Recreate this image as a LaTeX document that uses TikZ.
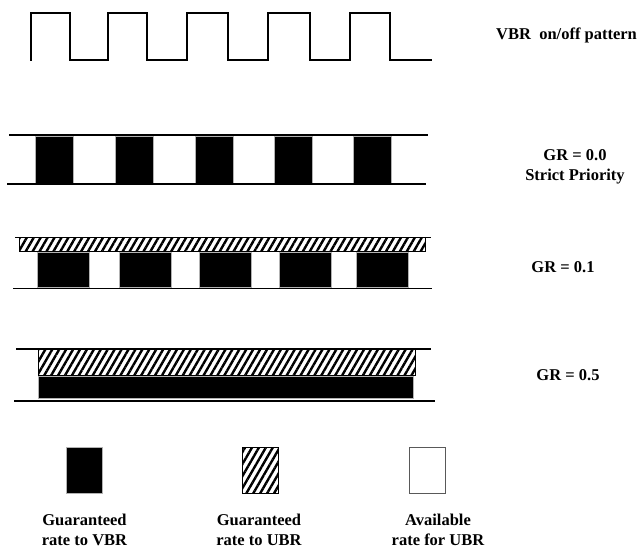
\documentclass[tikz,border=0pt]{standalone}
\usepackage{fontspec}
\setmainfont{Liberation Serif}
\usetikzlibrary{patterns.meta,positioning}
\tikzset{
  wav/.style={black, line width=2pt, line join=miter},
  rail/.style={black, line width=1.6pt},
  vcell/.style={fill=black, draw=gray!60, line width=0.8pt},
  ucell/.style={draw=black, line width=0.8pt,
      pattern={Lines[angle=60, distance=6pt, line width=2.4pt]}},
  fcell/.style={fill=white, draw=gray!70!black, line width=0.8pt},
  key/.style={minimum width=36pt, minimum height=46pt, inner sep=0pt},
  glab/.style={font=\fontsize{16.5}{20}\selectfont\bfseries, align=center, inner sep=0pt},
}

\begin{document}
\begin{tikzpicture}[x=1pt,y=-1pt]
\useasboundingbox (0,0) rectangle (639,548);
% VBR on/off pattern
\draw[wav] (31,61) |- (70,13) |- (108,60) |- (147,13) |- (187,60) |- (228,13)
  |- (268,60) |- (310,13) |- (350,60) |- (390,13) |- (432,60);
\node[glab, anchor=west] (vbrlab) at (496,35) {VBR\ \ on/off pattern};
% GR = 0.0
\foreach \x in {35,115,195,274,353}
  \draw[vcell] (\x,136) rectangle ++(38,47);
\draw[rail] (9,135) -- (428,135);
\draw[rail] (7,184) -- (426,184);
\node[glab] (gr0) at (575,167) {GR = 0.0\\Strict Priority};
% GR = 0.1
\draw[ucell] (19,237.5) rectangle (425,251.5);
\foreach \x in {37,119,199,279,356}
  \draw[vcell] (\x,252) rectangle ++(52,35);
\draw[rail] (15,237.3) -- (431,237.3);
\draw[rail] (13,288.3) -- (432,288.3);
\node[glab] (gr1) at (563,267) {GR = 0.1};
% GR = 0.5
\draw[ucell] (38.5,349) rectangle (415,375.5);
\draw[vcell] (38.5,376.5) rectangle (413,398.5);
\draw[rail] (16,349) -- (431,349);
\draw[rail] (14,400.7) -- (434.7,400.7);
\node[glab] (gr5) at (568,375) {GR = 0.5};
% key
\node[vcell, key] (keyvbr) at (84.5,470.5) {};
\node[ucell, key] (keyubr) at (260.6,470.5) {};
\node[fcell, key] (keyfree) at (427.2,470.5) {};
\node[glab] (txtvbr) at (84.5,529.5) {Guaranteed\\rate to VBR};
\node[glab] (txtubr) at (259,529.5) {Guaranteed\\rate to UBR};
\node[glab] (txtfree) at (438,529.5) {Available\\rate for UBR};
\end{tikzpicture}
\end{document}
